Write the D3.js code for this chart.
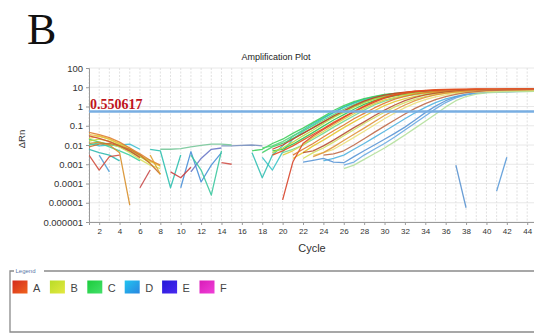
<!DOCTYPE html>
<html>
<head>
<meta charset="utf-8">
<script src="https://cdn.jsdelivr.net/npm/d3@7"></script>
<style>
html, body { margin: 0; padding: 0; background: #fff; overflow: hidden; }
svg { display: block; }
text { font-family: "Liberation Sans", Arial, sans-serif; }
</style>
</head>
<body>
<svg id="chart" width="534" height="336"></svg>
<script>
// ---- data ----------------------------------------------------------------
const groups = ["A", "B", "C", "D", "E", "F"];
const xTickCycles = d3.range(2, 45, 2);
const yTickValues = [1e-6, 1e-5, 1e-4, 1e-3, 1e-2, 0.1, 1, 10, 100];
const yTickLabels = ["0.000001", "0.00001", "0.0001", "0.001", "0.01", "0.1", "1", "10", "100"];
const threshold = 0.550617;

// Each well: first cycle with a positive ΔRn and the ΔRn values from there on
// (null / non-positive values are not plotted on the log axis).
const wellsA = [
  { start: 1,  dRn: [0.045, 0.035, 0.024, 0.014, 0.007, 0.0035, 0.0016, 0.0009] },
  { start: 1,  dRn: [0.03, 0.022, 0.015, 0.009, 0.005, 0.0022] },
  { start: 1,  dRn: [0.012, 0.014, 0.01, 0.004, 0.0000075] },
  { start: 1,  dRn: [0.003, 0.0005, 0.0025, 0.003] },
  { start: 1,  dRn: [0.008, 0.011, 0.012, 0.009, 0.006, 0.003, 0.0011, 0.0003] },
  { start: 6,  dRn: [0.00006, 0.0005] },
  { start: 7,  dRn: [0.003, 0.0003] },
  { start: 9,  dRn: [0.0004, 0.0002, 0.0007] },
  { start: 14, dRn: [0.0012, 0.001] },
  { start: 19, dRn: [0.006, 0.01, 0.02, 0.04, 0.08, 0.16, 0.32, 0.6, 1.1, 1.9, 2.9, 3.9, 4.8, 5.6, 6.2, 6.7, 7.0, 7.25, 7.4, 7.55, 7.65, 7.7, 7.75, 7.8, 7.8, 7.85, 7.85] },
  { start: 20, dRn: [0.000014, 0.0013, 0.012, 0.03, 0.065, 0.13, 0.27, 0.52, 0.98, 1.7, 2.7, 3.8, 4.8, 5.7, 6.4, 6.9, 7.3, 7.6, 7.8, 7.9, 8.0, 8.05, 8.1, 8.1, 8.15, 8.15] },
  { start: 21, dRn: [0.003, 0.006, 0.012, 0.026, 0.055, 0.11, 0.23, 0.44, 0.84, 1.5, 2.4, 3.4, 4.4, 5.3, 6.0, 6.5, 6.9, 7.2, 7.4, 7.5, 7.6, 7.65, 7.7, 7.7, 7.75] },
  { start: 22, dRn: [0.004, 0.005, 0.009, 0.018, 0.038, 0.08, 0.16, 0.33, 0.65, 1.2, 2.0, 3.0, 4.0, 4.9, 5.7, 6.3, 6.8, 7.1, 7.35, 7.5, 7.6, 7.65, 7.7, 7.7] },
  { start: 23, dRn: [0.0025, 0.004, 0.008, 0.017, 0.036, 0.075, 0.16, 0.34, 0.66, 1.2, 2.0, 3.0, 4.0, 4.9, 5.7, 6.3, 6.7, 7.0, 7.2, 7.3, 7.4, 7.45, 7.5] },
  { start: 24, dRn: [0.003, 0.0035, 0.005, 0.01, 0.021, 0.045, 0.095, 0.2, 0.41, 0.8, 1.4, 2.3, 3.3, 4.3, 5.2, 6.0, 6.6, 7.0, 7.3, 7.5, 7.6, 7.7] },
  { start: 19, dRn: [0.003, 0.005, 0.009, 0.018, 0.036, 0.072, 0.15, 0.29, 0.56, 1.05, 1.9, 3.0, 4.2, 5.3, 6.2, 6.9, 7.4, 7.7, 7.9, 8.0, 8.1, 8.15, 8.2, 8.2, 8.25, 8.25, 8.3] }
];
const wellsB = [
  { start: 1,  dRn: [0.022, 0.028, 0.02, 0.011, 0.006, 0.003, 0.0014, 0.0008] },
  { start: 1,  dRn: [0.016, 0.02, 0.016, 0.01, 0.0055, 0.0025, 0.0012] },
  { start: 3,  dRn: [0.012, 0.008, 0.004, 0.0018, 0.0009, 0.0006] },
  { start: 1,  dRn: [0.035, 0.03, 0.02, 0.012, 0.007, 0.003, 0.0012] },
  { start: 19, dRn: [0.004, 0.007, 0.014, 0.03, 0.06, 0.13, 0.27, 0.5, 0.92, 1.6, 2.4, 3.2, 4.0, 4.6, 5.1, 5.5, 5.8, 6.0, 6.15, 6.25, 6.3, 6.35, 6.4, 6.4, 6.45, 6.45, 6.5] },
  { start: 20, dRn: [0.003, 0.005, 0.01, 0.025, 0.05, 0.11, 0.22, 0.42, 0.8, 1.4, 2.2, 3.0, 3.8, 4.5, 5.0, 5.4, 5.7, 5.9, 6.05, 6.15, 6.2, 6.25, 6.3, 6.3, 6.35, 6.35] },
  { start: 21, dRn: [0.002, 0.004, 0.009, 0.018, 0.038, 0.08, 0.16, 0.31, 0.6, 1.1, 1.8, 2.6, 3.4, 4.1, 4.7, 5.2, 5.6, 5.9, 6.1, 6.2, 6.3, 6.35, 6.4, 6.4, 6.45] },
  { start: 22, dRn: [0.002, 0.004, 0.007, 0.014, 0.03, 0.062, 0.13, 0.26, 0.5, 0.95, 1.6, 2.4, 3.3, 4.1, 4.8, 5.3, 5.7, 6.0, 6.2, 6.3, 6.4, 6.45, 6.5, 6.5] },
  { start: 23, dRn: [0.003, 0.004, 0.006, 0.012, 0.025, 0.052, 0.11, 0.23, 0.46, 0.88, 1.5, 2.3, 3.2, 4.0, 4.7, 5.2, 5.6, 5.9, 6.1, 6.2, 6.3, 6.35, 6.4] },
  { start: 26, dRn: [0.0006, 0.0009, 0.0018, 0.0035, 0.007, 0.015, 0.033, 0.075, 0.17, 0.4, 0.95, 2.0, 3.3, 4.4, 5.1, 5.5, 5.75, 5.9, 6.0, 6.05] }
];
const wellsC = [
  { start: 1,  dRn: [0.02, 0.014, 0.011, 0.008, 0.0045, 0.0025, 0.0016] },
  { start: 1,  dRn: [0.01, 0.013, 0.008, 0.005, 0.003, 0.0015] },
  { start: 8,  dRn: [0.006, 0.006, 0.0065, 0.008, 0.0095, 0.011, 0.011, 0.01] },
  { start: 11, dRn: [0.003, 0.0005, 0.000025, 0.005] },
  { start: 17, dRn: [0.005, 0.006, 0.012, 0.02, 0.04, 0.075, 0.15, 0.3, 0.62, 1.1, 1.8, 2.6, 3.4, 4.2, 4.8, 5.3, 5.7, 6.0, 6.2, 6.35, 6.45, 6.5, 6.55, 6.6, 6.6, 6.65, 6.65, 6.7, 6.7] },
  { start: 18, dRn: [0.007, 0.009, 0.015, 0.03, 0.055, 0.1, 0.2, 0.38, 0.72, 1.25, 2.0, 2.8, 3.6, 4.3, 4.9, 5.4, 5.8, 6.1, 6.3, 6.45, 6.55, 6.6, 6.65, 6.7, 6.7, 6.75, 6.75, 6.8] },
  { start: 19, dRn: [0.005, 0.006, 0.011, 0.022, 0.045, 0.095, 0.2, 0.38, 0.72, 1.3, 2.0, 2.8, 3.6, 4.3, 4.9, 5.4, 5.8, 6.1, 6.3, 6.45, 6.55, 6.6, 6.65, 6.7, 6.7, 6.75, 6.75] },
  { start: 20, dRn: [0.004, 0.006, 0.01, 0.02, 0.04, 0.085, 0.17, 0.33, 0.65, 1.2, 1.9, 2.7, 3.5, 4.2, 4.8, 5.3, 5.7, 6.0, 6.2, 6.35, 6.45, 6.5, 6.55, 6.6, 6.6, 6.65] },
  { start: 18, dRn: [0.004, 0.008, 0.012, 0.022, 0.04, 0.08, 0.16, 0.3, 0.56, 1.0, 1.7, 2.5, 3.3, 4.1, 4.7, 5.2, 5.6, 5.9, 6.1, 6.25, 6.35, 6.4, 6.45, 6.5, 6.5, 6.55, 6.55, 6.6] }
];
const wellsD = [
  { start: 1,  dRn: [0.012, 0.009, 0.01, 0.01, 0.011, 0.006] },
  { start: 2,  dRn: [0.003, 0.0004] },
  { start: 1,  dRn: [0.006, 0.004, 0.003, 0.0015] },
  { start: 14, dRn: [0.009, 0.009, 0.0095, 0.01, 0.009] },
  { start: 7,  dRn: [0.006, 0.005, 0.00006, 0.003] },
  { start: 10, dRn: [0.00006, 0.0045, 0.00012, 0.0009, 0.004] },
  { start: 11, dRn: [0.0004, 0.002, 0.006, 0.007] },
  { start: 18, dRn: [0.0023, 0.0005, 0.0044, 0.02, 0.05, 0.11, 0.24, 0.48, 0.9, 1.5, 2.3, 3.1, 3.9, 4.5, 5.0, 5.4, 5.7, 5.9, 6.05, 6.15, 6.2, 6.25, 6.3, 6.3, 6.35, 6.35, 6.4, 6.4] },
  { start: 24, dRn: [0.0015, 0.002, 0.003, 0.006, 0.012, 0.025, 0.052, 0.11, 0.23, 0.47, 0.9, 1.6, 2.5, 3.4, 4.2, 4.9, 5.4, 5.7, 5.9, 6.05, 6.15, 6.2] },
  { start: 22, dRn: [0.0013, 0.0016, 0.002, 0.0013, 0.0012, 0.0025, 0.005, 0.01, 0.02, 0.04, 0.085, 0.2, 0.48, 1.05, 2.0, 3.2, 4.3, 5.0, 5.5, 5.8, 5.95, 6.05, 6.1, 6.15] },
  { start: 26, dRn: [0.0009, 0.0013, 0.003, 0.006, 0.012, 0.026, 0.06, 0.14, 0.32, 0.75, 1.6, 2.8, 4.0, 4.9, 5.4, 5.7, 5.9, 6.0, 6.05, 6.1] },
  { start: 17, dRn: [0.004, 0.0002, 0.003, 0.009, 0.028, 0.06, 0.13, 0.26, 0.5, 0.95, 1.6, 2.4, 3.2, 4.0, 4.6, 5.1, 5.5, 5.8, 6.0, 6.15, 6.25, 6.3, 6.35, 6.4, 6.4, 6.45, 6.45, 6.5, 6.5] },
  { start: 37, dRn: [0.0009, 0.0000055] },
  { start: 41, dRn: [0.00004, 0.0023] }
];
const wellsE = [];
const wellsF = [];

// ---- styles --------------------------------------------------------------
const shadesA = ["#e08030", "#d04a30", "#d8902c", "#d05040", "#c87030", "#c84848", "#e0a030", "#cc4040",
                 "#d05048", "#cc3a26", "#d8442a", "#e0782e", "#b85232", "#e0923c", "#c06a4a", "#e2501e"];
const shadesB = ["#e0d040", "#c0dc40", "#d8e060", "#e8c040", "#b6d83a", "#ddd040", "#e6c832", "#d2e062",
                 "#ece07a", "#b4e09c"];
const shadesC = ["#50d070", "#40d0a0", "#78c89a", "#3cc8a0", "#3fcf5c", "#5ad67a", "#2fc84f", "#72d892", "#48d06a"];
const shadesD = ["#40c0d0", "#50a0d8", "#30b8b0", "#7890c0", "#30c0b0", "#4a90d8", "#6a78c8", "#3cc4c8",
                 "#52b4e0", "#5a96d6", "#6aaae2", "#34c0b4", "#5a94d0", "#5a9ad8"];
const legendStops = {
  A: ["#d42a1e", "#f0641e"], B: ["#b8dc28", "#e4e840"], C: ["#1ccc3c", "#44e06a"],
  D: ["#20c4f0", "#2a86e0"], E: ["#2418d8", "#4a2af0"], F: ["#d81cb8", "#f040d8"]
};

// ---- layout --------------------------------------------------------------
const svg = d3.select("#chart");
const plot = { left: 89, right: 537.4, top: 68, bottom: 222 };

const x = d3.scaleLinear().domain([1, 45]).range([plot.left, plot.right]);
const y = d3.scaleLog().domain([1e-6, 100]).range([plot.bottom, plot.top]);

svg.append("rect").attr("width", 534).attr("height", 336).attr("fill", "#fff");

// panel letter
svg.append("text").attr("x", 27).attr("y", 44)
  .style("font-family", "'Liberation Serif', 'Times New Roman', serif")
  .style("font-size", "44px").attr("fill", "#111").text("B");

// title
svg.append("text").attr("x", 276).attr("y", 60).attr("text-anchor", "middle")
  .style("font-size", "9px").attr("fill", "#222").text("Amplification Plot");

const defs = svg.append("defs");
defs.append("clipPath").attr("id", "plotClip").append("rect")
  .attr("x", plot.left).attr("y", plot.top - 1)
  .attr("width", plot.right - plot.left).attr("height", plot.bottom - plot.top + 1);

// grid
const grid = svg.append("g");
grid.selectAll("line.v").data(d3.range(1, 46)).join("line")
  .attr("x1", d => x(d)).attr("x2", d => x(d))
  .attr("y1", plot.top).attr("y2", plot.bottom)
  .attr("stroke", "#d9d9d9").attr("stroke-width", 0.8).attr("stroke-dasharray", "2,1.5");
grid.selectAll("line.h").data(yTickValues).join("line")
  .attr("x1", plot.left).attr("x2", plot.right)
  .attr("y1", d => y(d)).attr("y2", d => y(d))
  .attr("stroke", "#e2e2e2").attr("stroke-width", 0.8);

// axes
const yAxis = svg.append("g").attr("transform", `translate(${plot.left},0)`)
  .call(d3.axisLeft(y).tickValues(yTickValues).tickFormat((d, i) => yTickLabels[i]).tickSize(3).tickPadding(3));
const xAxis = svg.append("g").attr("transform", `translate(0,${plot.bottom})`)
  .call(d3.axisBottom(x).tickValues(xTickCycles).tickSize(3).tickPadding(3));
[yAxis, xAxis].forEach(g => {
  g.select(".domain").attr("stroke", "#9a9a9a");
  g.selectAll(".tick line").attr("stroke", "#9a9a9a");
  g.selectAll("text").attr("fill", "#333").style("font-family", "'Liberation Sans', Arial, sans-serif");
});
yAxis.selectAll("text").style("font-size", "9.5px");
xAxis.selectAll("text").style("font-size", "8px");

// axis titles
svg.append("text").attr("transform", "translate(25,139) rotate(-90)")
  .attr("text-anchor", "middle").style("font-size", "9.5px").attr("fill", "#333").text("ΔRn");
svg.append("text").attr("x", 312).attr("y", 252).attr("text-anchor", "middle")
  .style("font-size", "11px").attr("fill", "#333").text("Cycle");

// amplification curves
const line = d3.line()
  .defined(d => d.v != null && d.v > 0)
  .x(d => x(d.c)).y(d => y(d.v));

const curves = svg.append("g").attr("clip-path", "url(#plotClip)");
const drawGroup = (wells, shades) => {
  wells.forEach((w, i) => {
    const pts = w.dRn.map((v, k) => ({ c: w.start + k, v }));
    curves.append("path").datum(pts).attr("d", line)
      .attr("fill", "none").attr("stroke", shades[i % shades.length])
      .attr("stroke-width", 1.3).attr("stroke-opacity", 0.9)
      .attr("stroke-linejoin", "round");
  });
};
drawGroup(wellsE, ["#3020e0"]);
drawGroup(wellsF, ["#e020c0"]);
drawGroup(wellsD, shadesD);
drawGroup(wellsC, shadesC);
drawGroup(wellsB, shadesB);
drawGroup(wellsA, shadesA);

// threshold
svg.append("line")
  .attr("x1", plot.left).attr("x2", plot.right)
  .attr("y1", y(threshold)).attr("y2", y(threshold))
  .attr("stroke", "#78aee2").attr("stroke-width", 2.4);
svg.append("text").attr("x", 90).attr("y", y(threshold) - 2)
  .style("font-family", "'Liberation Serif', 'Times New Roman', serif")
  .style("font-size", "14px").style("font-weight", "bold")
  .attr("fill", "#c0141c").text(threshold.toString());

// legend
const lg = svg.append("g");
lg.append("path")
  .attr("d", "M14,271 H10 V332 H540 M44,271 H540")
  .attr("fill", "none").attr("stroke", "#8a8a8a").attr("stroke-width", 1.3);
lg.append("text").attr("x", 15.5).attr("y", 273).style("font-size", "6px")
  .attr("fill", "#5a78a8").text("Legend");

groups.forEach((g, i) => {
  const grad = defs.append("linearGradient").attr("id", "sw" + g)
    .attr("x1", "0%").attr("y1", "0%").attr("x2", "100%").attr("y2", "100%");
  grad.append("stop").attr("offset", "0%").attr("stop-color", legendStops[g][0]);
  grad.append("stop").attr("offset", "100%").attr("stop-color", legendStops[g][1]);
  const gx = 12.5 + i * 37.4;
  lg.append("rect").attr("x", gx).attr("y", 280.5).attr("width", 15).attr("height", 13)
    .attr("fill", `url(#sw${g})`);
  lg.append("text").attr("x", gx + 20.5).attr("y", 292).style("font-size", "11px")
    .attr("fill", "#444").text(g);
});
</script>
</body>
</html>
